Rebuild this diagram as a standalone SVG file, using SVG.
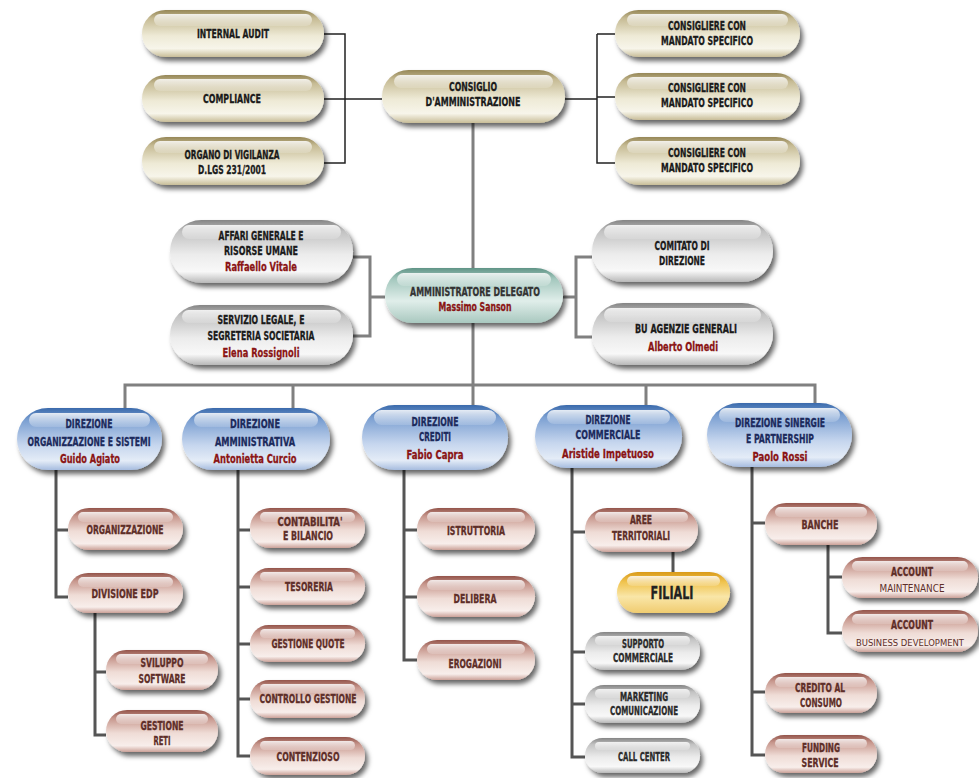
<svg xmlns="http://www.w3.org/2000/svg" width="979" height="778" viewBox="0 0 979 778">
<defs>
<linearGradient id="gB" x1="0" y1="0" x2="0" y2="1"><stop offset="0" stop-color="#968757"/><stop offset="0.18" stop-color="#c6bb94"/><stop offset="0.55" stop-color="#eeead6"/><stop offset="0.82" stop-color="#f7f5ea"/><stop offset="1" stop-color="#c8bd98"/></linearGradient>
<linearGradient id="gG" x1="0" y1="0" x2="0" y2="1"><stop offset="0" stop-color="#848484"/><stop offset="0.18" stop-color="#c2c2c2"/><stop offset="0.55" stop-color="#ececec"/><stop offset="0.82" stop-color="#f8f8f8"/><stop offset="1" stop-color="#b8b8b8"/></linearGradient>
<linearGradient id="gT" x1="0" y1="0" x2="0" y2="1"><stop offset="0" stop-color="#5f9486"/><stop offset="0.2" stop-color="#a4c8be"/><stop offset="0.6" stop-color="#e0eeea"/><stop offset="1" stop-color="#a9c8bf"/></linearGradient>
<linearGradient id="gL" x1="0" y1="0" x2="0" y2="1"><stop offset="0" stop-color="#3a6aac"/><stop offset="0.2" stop-color="#7ca0d2"/><stop offset="0.6" stop-color="#c6d6ee"/><stop offset="0.85" stop-color="#e4ecf7"/><stop offset="1" stop-color="#a6bcdf"/></linearGradient>
<linearGradient id="gR" x1="0" y1="0" x2="0" y2="1"><stop offset="0" stop-color="#94554b"/><stop offset="0.2" stop-color="#c7978d"/><stop offset="0.55" stop-color="#efdcd6"/><stop offset="0.85" stop-color="#f8eeeb"/><stop offset="1" stop-color="#cba198"/></linearGradient>
<linearGradient id="gY" x1="0" y1="0" x2="0" y2="1"><stop offset="0" stop-color="#d99a1a"/><stop offset="0.25" stop-color="#f0c450"/><stop offset="0.6" stop-color="#f9e6a8"/><stop offset="1" stop-color="#f0cc70"/></linearGradient>
<linearGradient id="gH" x1="0" y1="0" x2="0" y2="1"><stop offset="0" stop-color="#ffffff" stop-opacity="0.85"/><stop offset="1" stop-color="#ffffff" stop-opacity="0.15"/></linearGradient>
<filter id="sh" x="-10%" y="-20%" width="130%" height="170%"><feGaussianBlur in="SourceAlpha" stdDeviation="2.5"/><feOffset dx="3" dy="4" result="o"/><feFlood flood-color="#000" flood-opacity="0.6"/><feComposite in2="o" operator="in"/><feMerge><feMergeNode/><feMergeNode in="SourceGraphic"/></feMerge></filter>
</defs>
<style>
.p{filter:url(#sh)}
.b{fill:url(#gB)}.g{fill:url(#gG)}.t{fill:url(#gT)}.l{fill:url(#gL)}.r{fill:url(#gR)}.y{fill:url(#gY)}
.h{fill:url(#gH)}
text{font-family:"DejaVu Sans Condensed","Liberation Sans Narrow","Liberation Sans",sans-serif;font-weight:bold;text-anchor:middle;font-size:12.5px;fill:#1a1a1a;stroke:#1a1a1a;stroke-width:0.3}
.n{fill:#8a1414;stroke:#8a1414;font-size:13px}
.nv{fill:#1c2a5c;stroke:#1c2a5c}
.rs{fill:#5e2e28;stroke:#5e2e28;font-size:12px}
.gr{fill:#2a2a2a;stroke:#2a2a2a;font-size:11.5px}
.sm{font-weight:normal;font-size:10.5px;stroke-width:0}
.c1{fill:none;stroke:#222;stroke-width:1.5}
.c2{fill:none;stroke:#808080;stroke-width:3}
.c3{fill:none;stroke:#555;stroke-width:3}
</style>
<g id="connectors">
<path class="c1" d="M324,34 H345 V163 H324 M324,99 H382 M565,99 H597 M597,34 V163 H615 M597,34 H615 M597,97 H615"/>
<path class="c2" d="M473,123 V268 M473,323 V405 M385,297 H370 M353,257 H370 V336 H353 M563,297 H576 M592,257 H576 V337 H592 M125,408 V385 H815 V403 M293,385 V408 M646,385 V405"/>
<path class="c3" d="M56,470 V597 H68 M56,530 H68 M95,613 V735 H106 M95,672 H106 M238,470 V756 H250 M238,530 H250 M238,587 H250 M238,644 H250 M238,699 H250 M404,470 V660 H417 M404,530 H417 M404,597 H417 M572,468 V757 H585 M572,532 H585 M572,652 H585 M572,704 H585 M673,552 V572 M752,467 V755 H765 M752,523 H765 M752,692 H765 M828,545 V633 H842 M828,577 H842"/>
</g>
<g id="internal-audit"><rect class="p b" x="142" y="10" width="182" height="47" rx="23.5"/><rect class="h" x="154" y="14" width="158" height="12" rx="6"/><text x="233" y="38" textLength="72" lengthAdjust="spacingAndGlyphs">INTERNAL AUDIT</text></g>
<g id="compliance"><rect class="p b" x="142" y="75" width="182" height="47" rx="23.5"/><rect class="h" x="154" y="79" width="158" height="12" rx="6"/><text x="232" y="103" textLength="58" lengthAdjust="spacingAndGlyphs">COMPLIANCE</text></g>
<g id="organo-vigilanza"><rect class="p b" x="142" y="137" width="182" height="48" rx="24"/><rect class="h" x="154" y="141" width="158" height="12" rx="6"/><text x="232" y="159" textLength="95" lengthAdjust="spacingAndGlyphs">ORGANO DI VIGILANZA</text><text x="232" y="174" textLength="68" lengthAdjust="spacingAndGlyphs">D.LGS 231/2001</text></g>
<g id="consiglio"><rect class="p b" x="382" y="70" width="183" height="53" rx="26.5"/><rect class="h" x="394" y="75" width="159" height="13" rx="6.5"/><text x="473" y="91" textLength="48" lengthAdjust="spacingAndGlyphs">CONSIGLIO</text><text x="473" y="106" textLength="95" lengthAdjust="spacingAndGlyphs">D'AMMINISTRAZIONE</text></g>
<g id="consigliere-1"><rect class="p b" x="615" y="10" width="185" height="47" rx="23.5"/><rect class="h" x="627" y="14" width="161" height="12" rx="6"/><text x="707" y="30" textLength="78" lengthAdjust="spacingAndGlyphs">CONSIGLIERE CON</text><text x="707" y="45" textLength="92" lengthAdjust="spacingAndGlyphs">MANDATO SPECIFICO</text></g>
<g id="consigliere-2"><rect class="p b" x="615" y="73" width="185" height="47" rx="23.5"/><rect class="h" x="627" y="77" width="161" height="12" rx="6"/><text x="707" y="92" textLength="78" lengthAdjust="spacingAndGlyphs">CONSIGLIERE CON</text><text x="707" y="107" textLength="92" lengthAdjust="spacingAndGlyphs">MANDATO SPECIFICO</text></g>
<g id="consigliere-3"><rect class="p b" x="615" y="137" width="185" height="48" rx="24"/><rect class="h" x="627" y="141" width="161" height="12" rx="6"/><text x="707" y="157" textLength="78" lengthAdjust="spacingAndGlyphs">CONSIGLIERE CON</text><text x="707" y="172" textLength="92" lengthAdjust="spacingAndGlyphs">MANDATO SPECIFICO</text></g>
<g id="affari-generali"><rect class="p g" x="170" y="220" width="183" height="63" rx="31.5"/><rect class="h" x="182" y="225" width="159" height="14" rx="7"/><text x="261" y="240" textLength="85" lengthAdjust="spacingAndGlyphs">AFFARI GENERALE E</text><text x="261" y="255" textLength="74" lengthAdjust="spacingAndGlyphs">RISORSE UMANE</text><text class="n" x="261" y="271" textLength="72" lengthAdjust="spacingAndGlyphs">Raffaello Vitale</text></g>
<g id="servizio-legale"><rect class="p g" x="170" y="305" width="183" height="60" rx="30"/><rect class="h" x="182" y="310" width="159" height="13" rx="6.5"/><text x="261" y="324" textLength="87" lengthAdjust="spacingAndGlyphs">SERVIZIO LEGALE, E</text><text x="261" y="340" textLength="107" lengthAdjust="spacingAndGlyphs">SEGRETERIA SOCIETARIA</text><text class="n" x="261" y="357" textLength="77" lengthAdjust="spacingAndGlyphs">Elena Rossignoli</text></g>
<g id="amministratore-delegato"><rect class="p t" x="385" y="268" width="178" height="55" rx="27.5"/><rect class="h" x="397" y="273" width="154" height="13" rx="6.5"/><text x="475" y="296" textLength="130" lengthAdjust="spacingAndGlyphs" style="fill:#333;stroke:#333">AMMINISTRATORE DELEGATO</text><text class="n" x="475" y="311" textLength="73" lengthAdjust="spacingAndGlyphs">Massimo Sanson</text></g>
<g id="comitato-direzione"><rect class="p g" x="592" y="220" width="181" height="62" rx="31"/><rect class="h" x="604" y="225" width="157" height="14" rx="7"/><text x="682" y="250" textLength="55" lengthAdjust="spacingAndGlyphs">COMITATO DI</text><text x="682" y="265" textLength="46" lengthAdjust="spacingAndGlyphs">DIREZIONE</text></g>
<g id="bu-agenzie"><rect class="p g" x="592" y="303" width="181" height="62" rx="31"/><rect class="h" x="604" y="308" width="157" height="14" rx="7"/><text x="686" y="333" textLength="102" lengthAdjust="spacingAndGlyphs">BU AGENZIE GENERALI</text><text class="n" x="683" y="351" textLength="70" lengthAdjust="spacingAndGlyphs">Alberto Olmedi</text></g>
<g id="dir-organizzazione"><rect class="p l" x="17" y="408" width="145" height="62" rx="31"/><rect class="h" x="29" y="413" width="121" height="14" rx="7"/><text class="nv" x="89" y="428" textLength="47" lengthAdjust="spacingAndGlyphs">DIREZIONE</text><text class="nv" x="89" y="446" textLength="123" lengthAdjust="spacingAndGlyphs">ORGANIZZAZIONE E SISTEMI</text><text class="n" x="90" y="463" textLength="60" lengthAdjust="spacingAndGlyphs">Guido Agiato</text></g>
<g id="dir-amministrativa"><rect class="p l" x="182" y="408" width="148" height="62" rx="31"/><rect class="h" x="194" y="413" width="124" height="14" rx="7"/><text class="nv" x="255" y="428" textLength="50" lengthAdjust="spacingAndGlyphs">DIREZIONE</text><text class="nv" x="255" y="446" textLength="80" lengthAdjust="spacingAndGlyphs">AMMINISTRATIVA</text><text class="n" x="255" y="463" textLength="83" lengthAdjust="spacingAndGlyphs">Antonietta Curcio</text></g>
<g id="dir-crediti"><rect class="p l" x="362" y="405" width="146" height="65" rx="32.5"/><rect class="h" x="374" y="410" width="122" height="15" rx="7.5"/><text class="nv" x="435" y="426" textLength="47" lengthAdjust="spacingAndGlyphs">DIREZIONE</text><text class="nv" x="435" y="441" textLength="32" lengthAdjust="spacingAndGlyphs">CREDITI</text><text class="n" x="435" y="459" textLength="57" lengthAdjust="spacingAndGlyphs">Fabio Capra</text></g>
<g id="dir-commerciale"><rect class="p l" x="535" y="405" width="147" height="63" rx="31.5"/><rect class="h" x="547" y="410" width="123" height="14" rx="7"/><text class="nv" x="608" y="424" textLength="45" lengthAdjust="spacingAndGlyphs">DIREZIONE</text><text class="nv" x="608" y="439" textLength="65" lengthAdjust="spacingAndGlyphs">COMMERCIALE</text><text class="n" x="608" y="458" textLength="92" lengthAdjust="spacingAndGlyphs">Aristide Impetuoso</text></g>
<g id="dir-sinergie"><rect class="p l" x="707" y="403" width="145" height="64" rx="32"/><rect class="h" x="719" y="408" width="121" height="14" rx="7"/><text class="nv" x="780" y="427" textLength="90" lengthAdjust="spacingAndGlyphs">DIREZIONE SINERGIE</text><text class="nv" x="780" y="443" textLength="68" lengthAdjust="spacingAndGlyphs">E PARTNERSHIP</text><text class="n" x="780" y="461" textLength="55" lengthAdjust="spacingAndGlyphs">Paolo Rossi</text></g>
<g id="organizzazione"><rect class="p r" x="68" y="508" width="115" height="42" rx="21"/><rect class="h" x="78" y="512" width="95" height="10" rx="5"/><text class="rs" x="125" y="534" textLength="77" lengthAdjust="spacingAndGlyphs">ORGANIZZAZIONE</text></g>
<g id="divisione-edp"><rect class="p r" x="68" y="573" width="115" height="40" rx="20"/><rect class="h" x="78" y="577" width="95" height="10" rx="5"/><text class="rs" x="125" y="598" textLength="67" lengthAdjust="spacingAndGlyphs">DIVISIONE EDP</text></g>
<g id="sviluppo-software"><rect class="p r" x="106" y="650" width="112" height="40" rx="20"/><rect class="h" x="116" y="654" width="92" height="10" rx="5"/><text class="rs" x="162" y="667" textLength="43" lengthAdjust="spacingAndGlyphs">SVILUPPO</text><text class="rs" x="162" y="683" textLength="47" lengthAdjust="spacingAndGlyphs">SOFTWARE</text></g>
<g id="gestione-reti"><rect class="p r" x="106" y="710" width="112" height="42" rx="21"/><rect class="h" x="116" y="714" width="92" height="10" rx="5"/><text class="rs" x="162" y="730" textLength="43" lengthAdjust="spacingAndGlyphs">GESTIONE</text><text class="rs" x="162" y="745" textLength="17" lengthAdjust="spacingAndGlyphs">RETI</text></g>
<g id="contabilita"><rect class="p r" x="250" y="508" width="115" height="40" rx="20"/><rect class="h" x="260" y="512" width="95" height="10" rx="5"/><text class="rs" x="310" y="526" textLength="65" lengthAdjust="spacingAndGlyphs">CONTABILITA'</text><text class="rs" x="308" y="540" textLength="50" lengthAdjust="spacingAndGlyphs">E BILANCIO</text></g>
<g id="tesoreria"><rect class="p r" x="250" y="568" width="115" height="37" rx="18.5"/><rect class="h" x="260" y="572" width="95" height="9" rx="4.5"/><text class="rs" x="309" y="591" textLength="48" lengthAdjust="spacingAndGlyphs">TESORERIA</text></g>
<g id="gestione-quote"><rect class="p r" x="250" y="625" width="115" height="37" rx="18.5"/><rect class="h" x="260" y="629" width="95" height="9" rx="4.5"/><text class="rs" x="308" y="648" textLength="73" lengthAdjust="spacingAndGlyphs">GESTIONE QUOTE</text></g>
<g id="controllo-gestione"><rect class="p r" x="250" y="680" width="115" height="38" rx="19"/><rect class="h" x="260" y="684" width="95" height="9" rx="4.5"/><text class="rs" x="308" y="703" textLength="97" lengthAdjust="spacingAndGlyphs">CONTROLLO GESTIONE</text></g>
<g id="contenzioso"><rect class="p r" x="250" y="737" width="115" height="38" rx="19"/><rect class="h" x="260" y="741" width="95" height="9" rx="4.5"/><text class="rs" x="308" y="761" textLength="63" lengthAdjust="spacingAndGlyphs">CONTENZIOSO</text></g>
<g id="istruttoria"><rect class="p r" x="417" y="508" width="118" height="42" rx="21"/><rect class="h" x="427" y="512" width="98" height="10" rx="5"/><text class="rs" x="476" y="535" textLength="58" lengthAdjust="spacingAndGlyphs">ISTRUTTORIA</text></g>
<g id="delibera"><rect class="p r" x="417" y="576" width="118" height="41" rx="20.5"/><rect class="h" x="427" y="580" width="98" height="10" rx="5"/><text class="rs" x="475" y="603" textLength="43" lengthAdjust="spacingAndGlyphs">DELIBERA</text></g>
<g id="erogazioni"><rect class="p r" x="417" y="640" width="118" height="40" rx="20"/><rect class="h" x="427" y="644" width="98" height="10" rx="5"/><text class="rs" x="475" y="668" textLength="53" lengthAdjust="spacingAndGlyphs">EROGAZIONI</text></g>
<g id="aree-territoriali"><rect class="p r" x="585" y="508" width="113" height="44" rx="22"/><rect class="h" x="595" y="512" width="93" height="10" rx="5"/><text class="rs" x="641" y="524" textLength="22" lengthAdjust="spacingAndGlyphs">AREE</text><text class="rs" x="641" y="540" textLength="58" lengthAdjust="spacingAndGlyphs">TERRITORIALI</text></g>
<g id="filiali"><rect class="p y" x="617" y="572" width="113" height="41" rx="20.5"/><rect class="h" x="627" y="576" width="93" height="10" rx="5"/><text x="672" y="599" textLength="43" lengthAdjust="spacingAndGlyphs" style="font-size:18px;fill:#222;stroke:#222">FILIALI</text></g>
<g id="supporto-commerciale"><rect class="p g" x="585" y="632" width="115" height="38" rx="19"/><rect class="h" x="595" y="636" width="95" height="9" rx="4.5"/><text class="gr" x="643" y="648" textLength="42" lengthAdjust="spacingAndGlyphs">SUPPORTO</text><text class="gr" x="643" y="662" textLength="60" lengthAdjust="spacingAndGlyphs">COMMERCIALE</text></g>
<g id="marketing"><rect class="p g" x="585" y="685" width="115" height="38" rx="19"/><rect class="h" x="595" y="689" width="95" height="9" rx="4.5"/><text class="gr" x="644" y="701" textLength="48" lengthAdjust="spacingAndGlyphs">MARKETING</text><text class="gr" x="644" y="715" textLength="68" lengthAdjust="spacingAndGlyphs">COMUNICAZIONE</text></g>
<g id="call-center"><rect class="p g" x="585" y="738" width="115" height="35" rx="17.5"/><rect class="h" x="595" y="742" width="95" height="8" rx="4"/><text class="gr" x="644" y="761" textLength="52" lengthAdjust="spacingAndGlyphs">CALL CENTER</text></g>
<g id="banche"><rect class="p r" x="765" y="503" width="112" height="42" rx="21"/><rect class="h" x="775" y="507" width="92" height="10" rx="5"/><text class="rs" x="820" y="529" textLength="37" lengthAdjust="spacingAndGlyphs">BANCHE</text></g>
<g id="account-maintenance"><rect class="p r" x="842" y="557" width="136" height="41" rx="20.5"/><rect class="h" x="852" y="561" width="116" height="10" rx="5"/><text class="rs" x="912" y="576" textLength="42" lengthAdjust="spacingAndGlyphs">ACCOUNT</text><text class="rs sm" x="912" y="592" textLength="65" lengthAdjust="spacingAndGlyphs">MAINTENANCE</text></g>
<g id="account-business"><rect class="p r" x="842" y="610" width="136" height="42" rx="21"/><rect class="h" x="852" y="614" width="116" height="10" rx="5"/><text class="rs" x="912" y="629" textLength="42" lengthAdjust="spacingAndGlyphs">ACCOUNT</text><text class="rs sm" x="910" y="646" textLength="108" lengthAdjust="spacingAndGlyphs" style="font-size:9.5px">BUSINESS DEVELOPMENT</text></g>
<g id="credito-consumo"><rect class="p r" x="765" y="673" width="112" height="40" rx="20"/><rect class="h" x="775" y="677" width="92" height="10" rx="5"/><text class="rs" x="820" y="692" textLength="50" lengthAdjust="spacingAndGlyphs">CREDITO AL</text><text class="rs" x="821" y="707" textLength="42" lengthAdjust="spacingAndGlyphs">CONSUMO</text></g>
<g id="funding-service"><rect class="p r" x="765" y="735" width="112" height="38" rx="19"/><rect class="h" x="775" y="739" width="92" height="9" rx="4.5"/><text class="rs" x="821" y="752" textLength="38" lengthAdjust="spacingAndGlyphs">FUNDING</text><text class="rs" x="820" y="767" textLength="37" lengthAdjust="spacingAndGlyphs">SERVICE</text></g>
</svg>
